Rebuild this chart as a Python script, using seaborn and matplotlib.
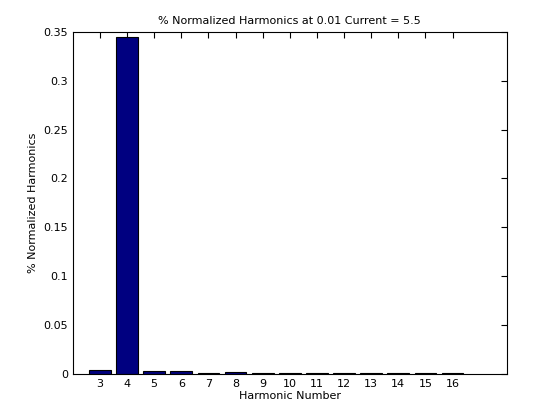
import numpy as np
import pandas as pd
import matplotlib
matplotlib.use("Agg")
import matplotlib.pyplot as plt
from matplotlib.ticker import FuncFormatter
import seaborn as sns

harmonics = [3, 4, 5, 6, 7, 8, 9, 10, 11, 12, 13, 14, 15, 16]
values = [0.004, 0.345, 0.003, 0.003, 0.001, 0.002, 0.001, 0.001,
          0.001, 0.001, 0.001, 0.001, 0.001, 0.001]
yticks = [0, 0.05, 0.1, 0.15, 0.2, 0.25, 0.3, 0.35]

sns.set_style("white")
plt.rcParams['font.family'] = ['DejaVu Sans']
plt.rcParams['text.color'] = 'black'
plt.rcParams['axes.labelcolor'] = 'black'

df = pd.DataFrame({"Harmonic": harmonics, "Value": values})

fig = plt.figure(figsize=(5.6, 4.2), dpi=100)
ax = fig.add_axes([0.130, 0.110, 0.775, 0.814])
sns.barplot(data=df, x="Harmonic", y="Value", native_scale=True, width=0.8,
            color=(0, 0, 0.5), saturation=1, edgecolor="black", linewidth=0.8,
            ax=ax)

ax.set_xlim(2, 18)
ax.set_ylim(0, 0.35)
ax.set_xticks(harmonics)
ax.set_yticks(yticks)
ax.yaxis.set_major_formatter(FuncFormatter(lambda v, p: "%g" % round(v, 4)))
ax.tick_params(direction="in", top=True, right=True, length=4, width=0.8,
               labelsize=8, colors="black")
for s in ax.spines.values():
    s.set_visible(True)
    s.set_color("black")
    s.set_linewidth(0.8)

ax.set_xlabel("Harmonic Number", fontsize=8, labelpad=2, color="black")
ax.set_ylabel("% Normalized Harmonics", fontsize=8, labelpad=4, color="black")
ax.set_title("% Normalized Harmonics at 0.01 Current = 5.5", fontsize=8, pad=6,
             color="black")

fig.savefig("out.png", dpi=100, facecolor="white")
